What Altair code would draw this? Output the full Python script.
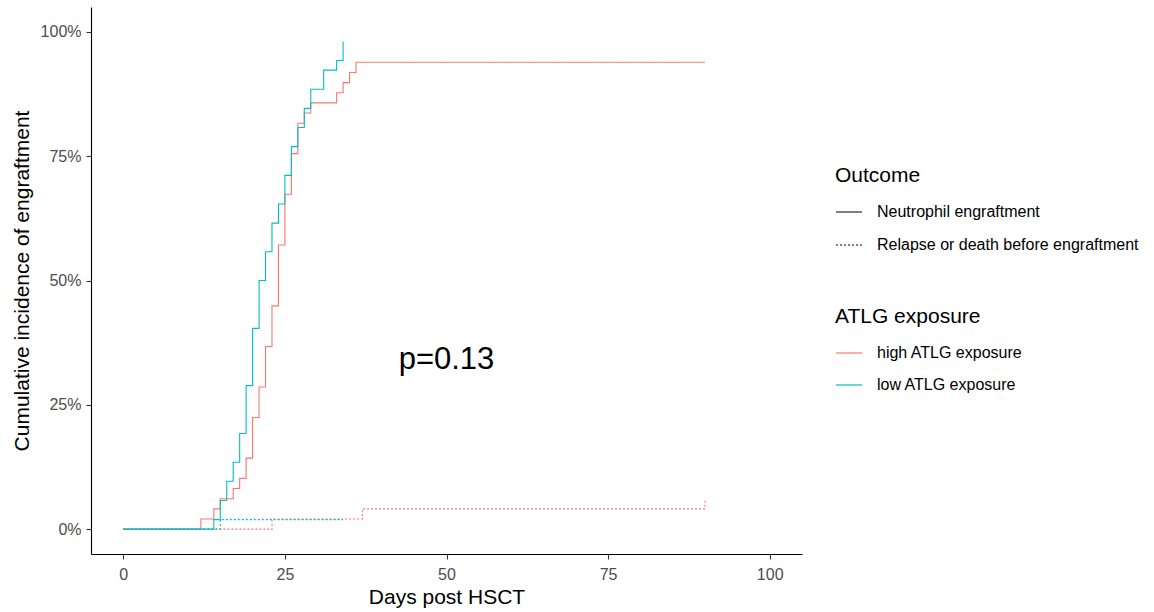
import altair as alt
import pandas as pd

FONT = "Liberation Sans"

exposure_levels = ["high ATLG exposure", "low ATLG exposure"]
outcome_levels = ["Neutrophil engraftment", "Relapse or death before engraftment"]
exposure_colors = ["#F8766D", "#00BFC4"]

# Neutrophil engraftment, high ATLG exposure
high_eng_days = [0, 12, 14, 15, 17, 18, 19, 20, 21, 22, 23, 24, 25, 26, 27, 28, 29, 33, 34, 35, 36, 90]
high_eng_ci = [0.0, 0.0204, 0.0408, 0.0612, 0.0816, 0.1020, 0.1429, 0.2245, 0.2857, 0.3673, 0.4490,
               0.5714, 0.6735, 0.7551, 0.8163, 0.8367, 0.8571, 0.8776, 0.8980, 0.9184, 0.9388, 0.9388]

# Neutrophil engraftment, low ATLG exposure
low_eng_days = [0, 14, 15, 16, 17, 18, 19, 20, 21, 22, 23, 24, 25, 26, 27, 28, 29, 31, 33, 34]
low_eng_ci = [0.0, 0.0192, 0.0577, 0.0962, 0.1346, 0.1923, 0.2885, 0.4038, 0.5000, 0.5577, 0.6154,
              0.6538, 0.7115, 0.7692, 0.8077, 0.8462, 0.8846, 0.9231, 0.9423, 0.9808]

# Relapse or death before engraftment
high_rel_days = [0, 23, 37, 90]
high_rel_ci = [0.0, 0.0204, 0.0408, 0.0612]
low_rel_days = [0, 15, 34]
low_rel_ci = [0.0, 0.0192, 0.0192]

p_label = "p=0.13"
p_day = 50
p_ci = 0.323


def frame(days, ci, exposure, outcome, order):
    return pd.DataFrame({"day": days, "ci": ci, "exposure": exposure,
                         "outcome": outcome, "layer": order})


df = pd.concat([
    frame(high_rel_days, high_rel_ci, exposure_levels[0], outcome_levels[1], 0),
    frame(high_eng_days, high_eng_ci, exposure_levels[0], outcome_levels[0], 1),
    frame(low_rel_days, low_rel_ci, exposure_levels[1], outcome_levels[1], 2),
    frame(low_eng_days, low_eng_ci, exposure_levels[1], outcome_levels[0], 3),
], ignore_index=True)

x_enc = alt.X("day:Q",
              scale=alt.Scale(domain=[-5, 105], nice=False, zero=False),
              axis=alt.Axis(values=[0, 25, 50, 75, 100], title="Days post HSCT",
                            labelPadding=7, titlePadding=4))
y_enc = alt.Y("ci:Q",
              scale=alt.Scale(domain=[-0.05, 1.05], nice=False, zero=False),
              axis=alt.Axis(values=[0, 0.25, 0.5, 0.75, 1.0], format=".0%",
                            title="Cumulative incidence of engraftment",
                            labelPadding=5, titlePadding=8))

color_enc = alt.Color("exposure:N",
                      scale=alt.Scale(domain=exposure_levels, range=exposure_colors),
                      legend=alt.Legend(title="ATLG exposure", orient="none",
                                        legendX=744, legendY=299,
                                        symbolType="stroke", symbolSize=676,
                                        symbolStrokeWidth=1.2, labelOffset=14,
                                        rowPadding=10, titlePadding=12, padding=0))
dash_enc = alt.StrokeDash("outcome:N",
                          scale=alt.Scale(domain=outcome_levels, range=[[1, 0], [2, 2]]),
                          legend=alt.Legend(title="Outcome", orient="none",
                                            legendX=744, legendY=158,
                                            symbolType="stroke", symbolSize=676,
                                            symbolStrokeColor="black",
                                            symbolStrokeWidth=1.2, labelOffset=14,
                                            rowPadding=11, titlePadding=12, padding=0))

base = alt.Chart(df).mark_line(interpolate="step-after", strokeWidth=1.1).encode(
    x=x_enc, y=y_enc, color=color_enc, strokeDash=dash_enc
)

layers = [base.transform_filter(alt.datum.layer == i) for i in range(4)]

ptext = alt.Chart(pd.DataFrame({"day": [p_day], "ci": [p_ci], "label": [p_label]})).mark_text(
    fontSize=31, font=FONT, color="black", baseline="alphabetic", align="center"
).encode(x="day:Q", y="ci:Q", text="label:N")

chart = alt.layer(*layers, ptext).properties(
    width=711, height=547,
    padding={"left": 91, "top": 7, "right": 352, "bottom": 58},
    autosize=alt.AutoSizeParams(type="none"),
    background="white",
).configure_view(stroke=None).configure_axis(
    grid=False,
    domainColor="black", domainWidth=1.1,
    tickColor="#333333", tickSize=5, tickWidth=1.1,
    labelColor="#4D4D4D", labelFontSize=16, labelFont=FONT,
    titleColor="black", titleFontSize=21, titleFont=FONT, titleFontWeight="normal",
).configure_legend(
    titleFont=FONT, titleFontSize=21, titleFontWeight="normal", titleColor="black",
    labelFont=FONT, labelFontSize=16, labelColor="black", labelLimit=400,
)

chart.save("out.html", embed_options={"renderer": "svg", "actions": False})
